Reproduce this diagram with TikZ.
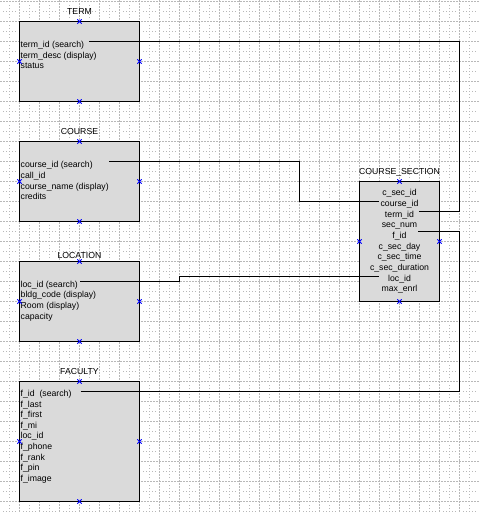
\documentclass[tikz,border=0pt]{standalone}
\usepackage{fontspec}
\setmainfont{Liberation Sans}
\usetikzlibrary{calc}
\definecolor{gridc}{HTML}{B8B8B8}
\definecolor{boxfill}{HTML}{DADADA}
\definecolor{mark}{HTML}{0000FF}
\tikzset{
  x=1pt, y=-1pt,
  gridline/.style={draw=gridc, line width=0.8pt, dash pattern=on 2pt off 1pt},
  griddot/.style={draw=gridc, line width=0.9pt, dash pattern=on 1pt off 2pt},
  entity/.style={draw=black, fill=boxfill, line width=1pt},
  title/.style={anchor=base, inner sep=0pt, font=\fontsize{8.7}{10}\selectfont},
  row/.style={anchor=base west, inner sep=0pt, font=\fontsize{8.7}{10}\selectfont},
  crow/.style={anchor=base, inner sep=0pt, font=\fontsize{8.7}{10}\selectfont},
  link/.style={draw=black, line width=1pt},
  xmark/.style={draw=mark, line width=0.8pt}
}
\newcommand{\xmk}[2]{\draw[xmark] (#1-2.2,#2-2.2) -- (#1+2.2,#2+2.2) (#1-2.2,#2+2.2) -- (#1+2.2,#2-2.2);}
\begin{document}
\begin{tikzpicture}
\useasboundingbox[fill=white] (0,0) rectangle (479,512);
% grid
\foreach \gx in {19.5,39.5,...,460} \draw[gridline] (\gx,0) -- (\gx,512);
\foreach \gy in {1.5,21.5,...,502} \draw[gridline] (0,\gy) -- (479,\gy);
\foreach \gx in {9.5,29.5,...,470} {
  \foreach \gy in {11.5,31.5,...,512} {
    \draw[griddot] (\gx-6.5,\gy) -- (\gx+6.5,\gy);
    \draw[griddot] (\gx,\gy-6.5) -- (\gx,\gy+6.5);
  }
}
% entity boxes
\path[entity] (19.5,21.5) rectangle (139.5,101.5);
\path[entity] (19.5,141.5) rectangle (139.5,221.5);
\path[entity] (19.5,261.5) rectangle (139.5,341.5);
\path[entity] (19.5,381.5) rectangle (139.5,501.5);
\path[entity] (359.5,181.5) rectangle (439.5,301.5);
% titles
\node[title] (tTerm) at (79.5,14.5) {TERM};
\node[title] (tCourse) at (79.5,134.5) {COURSE};
\node[title] (tLoc) at (79.5,258.5) {LOCATION};
\node[title] (tFac) at (79.5,374.5) {FACULTY};
\node[title] (tCS) at (399.5,174.5) {COURSE\_SECTION};
% TERM rows
\node[row] (term1) at (20.5,47.3) {term\_id (search)};
\node[row] (term2) at (20.5,58.0) {term\_desc (display)};
\node[row] (term3) at (20.5,68.6) {status};
% COURSE rows
\node[row] (course1) at (20.5,167.7) {course\_id (search)};
\node[row] (course2) at (20.5,178.4) {call\_id};
\node[row] (course3) at (20.5,189.0) {course\_name (display)};
\node[row] (course4) at (20.5,199.7) {credits};
% LOCATION rows
\node[row] (loc1) at (20.5,287.0) {loc\_id (search)};
\node[row] (loc2) at (20.5,297.7) {bldg\_code (display)};
\node[row] (loc3) at (20.5,308.3) {Room (display)};
\node[row] (loc4) at (20.5,319.0) {capacity};
% FACULTY rows
\node[row] (fac1) at (20.5,396.5) {f\_id\ \ (search)};
\node[row] (fac2) at (20.5,407.1) {f\_last};
\node[row] (fac3) at (20.5,417.7) {f\_first};
\node[row] (fac4) at (20.5,428.3) {f\_mi};
\node[row] (fac5) at (20.5,438.9) {loc\_id};
\node[row] (fac6) at (20.5,449.5) {f\_phone};
\node[row] (fac7) at (20.5,460.1) {f\_rank};
\node[row] (fac8) at (20.5,470.7) {f\_pin};
\node[row] (fac9) at (20.5,481.3) {f\_image};
% COURSE_SECTION rows
\node[crow] (cs1) at (399.5,195.7) {c\_sec\_id};
\node[crow] (cs2) at (399.5,206.4) {course\_id};
\node[crow] (cs3) at (399.5,217.0) {term\_id};
\node[crow] (cs4) at (399.5,227.7) {sec\_num};
\node[crow] (cs5) at (399.5,238.3) {f\_id};
\node[crow] (cs6) at (399.5,249.0) {c\_sec\_day};
\node[crow] (cs7) at (399.5,259.7) {c\_sec\_time};
\node[crow] (cs8) at (399.5,270.3) {c\_sec\_duration};
\node[crow] (cs9) at (399.5,281.0) {loc\_id};
\node[crow] (cs10) at (399.5,291.6) {max\_enrl};
% markers
\foreach \bx/\by/\bw/\bh in {19.5/21.5/120/80, 19.5/141.5/120/80, 19.5/261.5/120/80, 19.5/381.5/120/120, 359.5/181.5/80/120} {
  \pgfmathsetmacro{\mx}{\bx+\bw/2}
  \pgfmathsetmacro{\my}{\by+\bh/2}
  \pgfmathsetmacro{\rx}{\bx+\bw}
  \pgfmathsetmacro{\ry}{\by+\bh}
  \xmk{\mx}{\by}
  \xmk{\mx}{\ry}
  \xmk{\bx}{\my}
  \xmk{\rx}{\my}
}
% link end points
\coordinate (termA) at (89,41.5);
\coordinate (csTermB) at (419.3,211.5);
\coordinate (courseA) at (109.3,161.5);
\coordinate (csCourseB) at (379,201.3);
\coordinate (locA) at (80,281.5);
\coordinate (csLocB) at (379,276.8);
\coordinate (facA) at (80.5,391.5);
\coordinate (csFacB) at (418.3,231.3);
\coordinate (railR) at (459.5,0);
\coordinate (railC) at (299.5,0);
\coordinate (railL) at (179.5,0);
% links
\draw[link] (termA) -- (termA -| railR) -- (csTermB -| railR) -- (csTermB);
\draw[link] (courseA) -- (courseA -| railC) -- (csCourseB -| railC) -- (csCourseB);
\draw[link] (locA) -- (locA -| railL) -- (csLocB -| railL) -- (csLocB);
\draw[link] (facA) -- (facA -| railR) -- (csFacB -| railR) -- (csFacB);
\end{tikzpicture}
\end{document}
